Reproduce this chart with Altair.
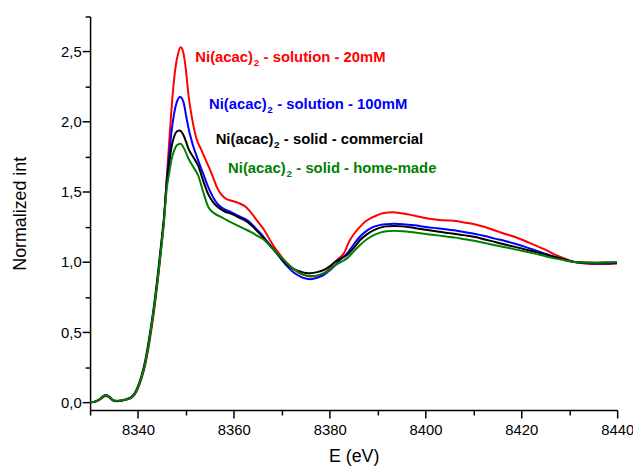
import altair as alt
import pandas as pd

# ---- shared pre-edge / rising edge (eV) ----
E_edge = [8330.0, 8331.0, 8332.0, 8332.7, 8333.3, 8334.0, 8334.7, 8335.4, 8336.2, 8337.0,
          8337.8, 8338.6, 8339.3, 8340.0, 8340.7, 8341.4, 8342.1, 8342.8, 8343.5, 8344.2,
          8344.8, 8345.4]
edge_red = [0.0, 0.004, 0.019, 0.037, 0.046, 0.035, 0.015, 0.008, 0.010, 0.014, 0.021, 0.032,
            0.055, 0.100, 0.165, 0.25, 0.37, 0.52, 0.69, 0.89, 1.08, 1.28]
edge_blue = [0.0, 0.005, 0.021, 0.042, 0.052, 0.038, 0.016, 0.009, 0.011, 0.016, 0.023, 0.035,
             0.060, 0.108, 0.175, 0.265, 0.39, 0.54, 0.71, 0.91, 1.10, 1.30]
edge_black = [0.0, 0.005, 0.022, 0.042, 0.052, 0.040, 0.018, 0.010, 0.012, 0.017, 0.025, 0.038,
              0.065, 0.115, 0.185, 0.28, 0.41, 0.56, 0.73, 0.93, 1.12, 1.31]
edge_green = [0.0, 0.005, 0.022, 0.043, 0.053, 0.041, 0.019, 0.011, 0.012, 0.016, 0.023, 0.035,
              0.060, 0.108, 0.175, 0.265, 0.39, 0.54, 0.71, 0.90, 1.09, 1.28]

# ---- Ni(acac)2 - solution - 20mM (red) ----
E_red = [8346.0, 8346.6, 8347.2, 8347.8, 8348.4, 8348.9, 8349.4, 8350.0, 8350.5, 8351.3,
         8352.2, 8353.2, 8354.1, 8355.0, 8355.7, 8356.5, 8357.4, 8358.4, 8359.5, 8361.0,
         8362.2, 8363.3, 8364.3, 8365.3, 8366.4, 8367.4, 8368.4, 8369.5, 8370.5, 8371.8,
         8373.2, 8374.6, 8376.0, 8377.4, 8378.8, 8379.8, 8380.8, 8381.9, 8382.9, 8384.2,
         8385.2, 8386.3, 8387.3, 8388.4, 8389.7, 8391.1, 8393.2, 8394.9, 8396.6, 8398.7,
         8400.8, 8402.9, 8404.9, 8406.3, 8408.0, 8410.4, 8412.4, 8414.5, 8416.6, 8418.7,
         8420.8, 8422.8, 8424.9, 8426.9, 8429.0, 8431.1, 8433.2, 8435.2, 8437.6, 8440.0]
I_red = [1.60, 1.90, 2.18, 2.38, 2.49, 2.53, 2.50, 2.37, 2.20, 2.02,
         1.88, 1.80, 1.73, 1.66, 1.60, 1.53, 1.48, 1.45, 1.437, 1.42,
         1.40, 1.365, 1.32, 1.275, 1.225, 1.165, 1.108, 1.058, 1.014, 0.97,
         0.932, 0.908, 0.896, 0.903, 0.92, 0.95, 0.99, 1.025, 1.06, 1.155,
         1.205, 1.25, 1.285, 1.31, 1.33, 1.347, 1.354, 1.348, 1.338, 1.323,
         1.308, 1.30, 1.296, 1.292, 1.282, 1.268, 1.25, 1.225, 1.20, 1.178,
         1.15, 1.12, 1.09, 1.055, 1.025, 1.0, 0.99, 0.985, 0.985, 0.99]

# ---- Ni(acac)2 - solution - 100mM (blue) ----
E_blue = [8346.0, 8346.5, 8347.0, 8347.5, 8348.1, 8348.8, 8349.5, 8350.0, 8350.5, 8351.4,
          8352.5, 8353.6, 8354.7, 8355.7, 8356.7, 8358.1, 8359.5, 8361.2, 8362.9, 8364.3,
          8365.7, 8367.0, 8368.4, 8369.8, 8371.2, 8372.5, 8373.9, 8375.0, 8376.0, 8377.4,
          8378.8, 8380.0, 8381.1, 8382.3, 8383.6, 8385.0, 8386.3, 8387.7, 8389.1, 8390.4,
          8391.8, 8393.5, 8395.3, 8397.7, 8400.1, 8402.5, 8404.9, 8406.3, 8408.3, 8410.4,
          8412.4, 8414.5, 8416.6, 8418.7, 8420.8, 8422.8, 8424.9, 8426.9, 8429.0, 8431.1,
          8433.2, 8435.2, 8437.6, 8440.0]
I_blue = [1.58, 1.76, 1.93, 2.05, 2.14, 2.176, 2.14, 2.05, 1.96, 1.84,
          1.73, 1.63, 1.53, 1.46, 1.41, 1.375, 1.354, 1.325, 1.296, 1.25,
          1.20, 1.145, 1.085, 1.025, 0.967, 0.925, 0.896, 0.882, 0.878, 0.888,
          0.908, 0.94, 0.975, 1.02, 1.06, 1.125, 1.18, 1.222, 1.25, 1.263,
          1.27, 1.272, 1.27, 1.262, 1.25, 1.24, 1.23, 1.225, 1.212, 1.20,
          1.185, 1.167, 1.15, 1.13, 1.108, 1.085, 1.06, 1.037, 1.015, 1.0,
          0.993, 0.99, 0.99, 0.995]

# ---- Ni(acac)2 - solid - commercial (black) ----
E_black = [8346.0, 8346.5, 8347.0, 8347.6, 8348.1, 8348.7, 8349.4, 8350.0, 8350.5, 8351.5,
           8352.6, 8353.6, 8354.7, 8355.7, 8356.7, 8358.1, 8359.5, 8361.2, 8362.9, 8364.3,
           8365.7, 8367.0, 8368.4, 8369.8, 8371.2, 8372.5, 8373.9, 8375.0, 8376.0, 8377.4,
           8378.8, 8380.0, 8381.1, 8382.3, 8383.6, 8385.0, 8386.3, 8387.7, 8389.1, 8390.4,
           8391.8, 8393.5, 8395.3, 8397.7, 8400.1, 8402.5, 8404.9, 8406.3, 8408.3, 8410.4,
           8412.4, 8414.5, 8416.6, 8418.7, 8420.8, 8422.8, 8424.9, 8426.9, 8429.0, 8431.1,
           8433.2, 8435.2, 8437.6, 8440.0]
I_black = [1.56, 1.70, 1.82, 1.90, 1.93, 1.937, 1.91, 1.86, 1.81, 1.75,
           1.683, 1.58, 1.48, 1.425, 1.39, 1.36, 1.343, 1.315, 1.284, 1.24,
           1.19, 1.14, 1.085, 1.03, 0.979, 0.95, 0.932, 0.922, 0.92, 0.928,
           0.944, 0.97, 1.0, 1.025, 1.05, 1.10, 1.155, 1.195, 1.225, 1.243,
           1.254, 1.257, 1.254, 1.243, 1.23, 1.218, 1.206, 1.20, 1.19, 1.178,
           1.16, 1.143, 1.125, 1.108, 1.09, 1.073, 1.055, 1.037, 1.018, 1.0,
           0.996, 0.995, 0.996, 0.998]

# ---- Ni(acac)2 - solid - home-made (green) ----
E_green = [8346.0, 8346.5, 8347.0, 8347.6, 8348.2, 8348.9, 8349.6, 8350.5, 8351.5, 8352.6,
           8353.6, 8354.7, 8356.0, 8357.4, 8359.0, 8360.8, 8362.2, 8363.6, 8365.0, 8366.4,
           8367.7, 8369.1, 8370.5, 8371.9, 8373.2, 8374.6, 8375.6, 8376.7, 8378.0, 8379.4,
           8380.3, 8381.1, 8382.3, 8383.6, 8385.0, 8386.3, 8387.7, 8389.1, 8390.4, 8391.8,
           8393.5, 8395.3, 8397.7, 8400.1, 8402.5, 8404.9, 8406.3, 8408.3, 8410.4, 8412.4,
           8414.5, 8416.6, 8418.7, 8420.8, 8422.8, 8424.9, 8426.9, 8429.0, 8431.1, 8433.2,
           8435.2, 8437.6, 8440.0]
I_green = [1.52, 1.63, 1.73, 1.80, 1.835, 1.843, 1.81, 1.74, 1.68, 1.613,
           1.50, 1.39, 1.345, 1.32, 1.29, 1.26, 1.237, 1.213, 1.185, 1.155,
           1.11, 1.06, 1.012, 0.967, 0.935, 0.908, 0.902, 0.90, 0.91, 0.932,
           0.955, 0.975, 1.0, 1.026, 1.075, 1.12, 1.16, 1.19, 1.208, 1.22,
           1.222, 1.22, 1.21, 1.20, 1.19, 1.178, 1.174, 1.162, 1.15, 1.135,
           1.12, 1.105, 1.09, 1.075, 1.06, 1.043, 1.026, 1.012, 1.0, 0.996,
           0.995, 0.997, 1.0]

# ---- in-plot labels: "Ni(acac)" + subscript "2" + suffix ----
label_prefix = ["Ni(acac)", "Ni(acac)", "Ni(acac)", "Ni(acac)"]
label_sub = ["2", "2", "2", "2"]
label_suffix = ["- solution - 20mM", "- solution - 100mM",
                "- solid - commercial", "- solid - home-made"]
series_colors = ["#ff0000", "#0000ff", "#000000", "#008000"]
label_E = [8351.97, 8354.8, 8356.2, 8358.8]
label_I = [2.458, 2.129, 1.878, 1.667]

x_ticks = [8330, 8340, 8350, 8360, 8370, 8380, 8390, 8400, 8410, 8420, 8430, 8440]
y_ticks = [0.0, 0.25, 0.5, 0.75, 1.0, 1.25, 1.5, 1.75, 2.0, 2.25, 2.5, 2.75]

curves = [
    (E_red, I_red, edge_red),
    (E_blue, I_blue, edge_blue),
    (E_black, I_black, edge_black),
    (E_green, I_green, edge_green),
]

FONT = "Liberation Sans"
x_scale = alt.Scale(domain=[8330, 8440], nice=False, zero=False)
y_scale = alt.Scale(domain=[-0.055, 2.75], nice=False, zero=False)

x_axis = alt.Axis(
    values=x_ticks, title="E (eV)", grid=False,
    labelExpr="datum.value % 20 == 0 ? format(datum.value, 'd') : ''",
    tickSize={"condition": {"test": "datum.value % 20 == 0", "value": 8}, "value": 5},
    labelOverlap=False, labelFlush=False, labelBound=False,
    labelFont=FONT, labelFontSize=15, labelColor="black", labelPadding=5,
    titleFont=FONT, titleFontSize=18, titleFontWeight="normal", titleColor="black",
    titleX=266.5, titleY=47, titleBaseline="middle", titleAlign="center",
    domainColor="black", domainWidth=1.5, tickColor="black", tickWidth=1.5,
)
y_axis = alt.Axis(
    values=y_ticks, title="Normalized int", grid=False,
    labelExpr="abs(datum.value*2 - round(datum.value*2)) < 0.01 ? replace(format(datum.value, '.1f'), '.', ',') : ''",
    tickSize={"condition": {"test": "abs(datum.value*2 - round(datum.value*2)) < 0.01", "value": 8}, "value": 5},
    labelOverlap=False, labelFlush=False, labelBound=False,
    labelFont=FONT, labelFontSize=15, labelColor="black", labelPadding=1,
    titleFont=FONT, titleFontSize=18, titleFontWeight="normal", titleColor="black",
    titleX=-70, titleY=199, titleAngle=270, titleBaseline="middle", titleAlign="center",
    domainColor="black", domainWidth=1.5, tickColor="black", tickWidth=1.5,
)

enc_x = alt.X("E:Q", scale=x_scale, axis=x_axis)
enc_y = alt.Y("I:Q", scale=y_scale, axis=y_axis)

layers = []
for i, (E, I, edge) in enumerate(curves):
    df = pd.DataFrame({"E": E_edge + E, "I": edge + I})
    layers.append(
        alt.Chart(df).mark_line(color=series_colors[i], strokeWidth=2, clip=True,
                                interpolate="monotone")
        .encode(x=enc_x, y=enc_y, order="E:Q")
    )

labels_df = pd.DataFrame({"E": label_E, "I": label_I, "pre": label_prefix,
                          "sub": label_sub, "suf": label_suffix, "c": series_colors})
lab_base = alt.Chart(labels_df).encode(
    x=enc_x, y=enc_y, color=alt.Color("c:N", scale=None)
)
lab_pre = lab_base.mark_text(align="left", baseline="middle", font=FONT,
                             fontSize=15, fontWeight="bold").encode(text="pre:N")
lab_sub = lab_base.mark_text(align="left", baseline="middle", font=FONT,
                             fontSize=10, fontWeight="bold", dx=59, dy=6).encode(text="sub:N")
lab_suf = lab_base.mark_text(align="left", baseline="middle", font=FONT,
                             fontSize=15, fontWeight="bold", dx=69).encode(text="suf:N")

chart = alt.layer(*layers, lab_pre, lab_sub, lab_suf).properties(
    width=533, height=398,
    autosize=alt.AutoSizeParams(type="none"),
    padding={"left": 83, "top": 6, "right": 16, "bottom": 54},
).configure(background="white").configure_view(stroke=None)

chart.save("out.html", embed_options={"renderer": "svg", "actions": False})
